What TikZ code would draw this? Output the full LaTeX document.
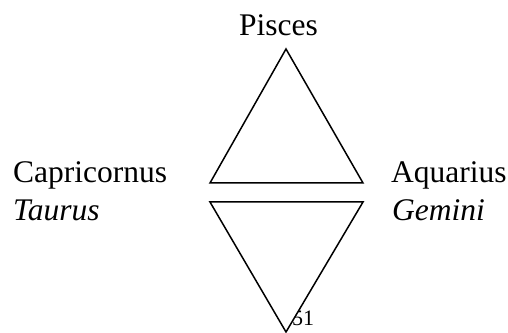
\documentclass[tikz,border=0pt]{standalone}
\usepackage{fontspec}
\setmainfont{Liberation Serif}
\begin{document}
\begin{tikzpicture}[x=1pt,y=1pt,
  lbl/.style={inner sep=0pt,anchor=base west,font=\fontsize{31.5}{36}\selectfont},
  tri/.style={draw=black,fill=white,line width=1.5pt,line join=miter}]
\useasboundingbox (0,0) rectangle (508,332);
\node[lbl] (pisces) at (239,296) {Pisces};
\node[lbl] (capr) at (13,149) {Capricornus};
\node[lbl,font=\fontsize{31.5}{36}\itshape] (taurus) at (13,111) {Taurus};
\node[lbl] (aqua) at (391,149) {Aquarius};
\node[lbl,font=\fontsize{31.5}{36}\itshape] (gem) at (392,111) {Gemini};
\node[inner sep=0pt,anchor=base west,font=\fontsize{22}{26}\selectfont] (num) at (292,7) {51};
\coordinate (a1) at (286,283);
\coordinate (b1) at (210,149);
\coordinate (c1) at (363,149);
\coordinate (a2) at (286,0);
\coordinate (b2) at (210,130);
\coordinate (c2) at (363,130);
\draw[tri] (a1) -- (b1) -- (c1) -- cycle;
\draw[tri] (b2) -- (c2) -- (a2) -- cycle;
\end{tikzpicture}
\end{document}
